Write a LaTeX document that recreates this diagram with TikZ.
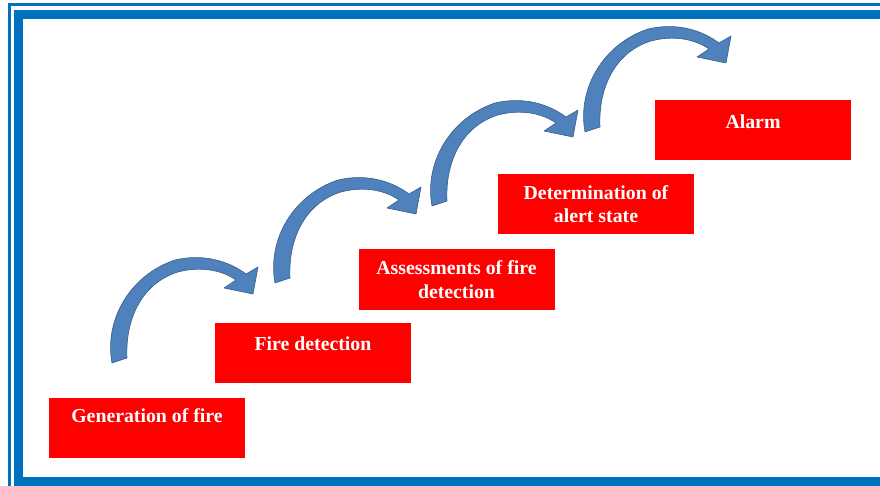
\documentclass[tikz,border=0pt]{standalone}
\usepackage{fontspec}
\setmainfont{Liberation Serif}
\definecolor{borderblue}{RGB}{0,112,192}
\definecolor{arrowfill}{RGB}{79,129,189}
\definecolor{arrowline}{RGB}{56,93,138}
\definecolor{boxred}{RGB}{255,0,0}
\begin{document}
\begin{tikzpicture}[x=1pt,y=-1pt,
  stepbox/.style={rectangle, fill=boxred, draw=none, minimum width=196pt, minimum height=60pt, inner sep=0pt},
  lbl/.style={text=white, font=\bfseries\fontsize{19.8}{23.5}\selectfont, align=center, inner sep=0pt, anchor=base},
  curvearrow/.style={fill=arrowfill, draw=arrowline, line width=0.6pt, line join=round}]
\useasboundingbox (0,0) rectangle (880,486);
\clip (0,0) rectangle (880,486);
% frame
\draw[borderblue, line width=2.6pt] (9.5,4.8) rectangle (900,500);
\draw[borderblue, line width=9pt] (18.5,14.5) rectangle (895,481.5);
% boxes
\node[stepbox] (b1) at (147,428) {};
\node[stepbox] (b2) at (313,353) {};
\node[stepbox] (b3) at (456.5,279.5) {};
\node[stepbox] (b4) at (596,204) {};
\node[stepbox] (b5) at (753,130.5) {};
\node[lbl] (t1) at ([yshift=-25pt]b1.north) {Generation of fire};
\node[lbl] (t2) at ([yshift=-28pt]b2.north) {Fire detection};
\node[lbl] (t3) at ([yshift=-49pt]b3.north) {Assessments of fire\\detection};
\node[lbl] (t4) at ([yshift=-49pt]b4.north) {Determination of\\alert state};
\node[lbl] (t5) at ([yshift=-28pt]b5.north) {Alarm};
% curved arrows
\foreach \dx/\dy in {0/0, 163/-80, 320/-157, 473/-231}{
  \begin{scope}[shift={(\dx,\dy)}]
    \draw[curvearrow] (112,363) .. controls (104,320) and (130,275) .. (175,260)
      .. controls (205,253) and (230,262) .. (246,274)
      -- (258,267) -- (253,294) -- (224,288) -- (236,280)
      .. controls (222,270) and (200,266) .. (178,272)
      .. controls (145,282) and (125,315) .. (127,358) -- cycle;
  \end{scope}
}
\end{tikzpicture}
\end{document}
